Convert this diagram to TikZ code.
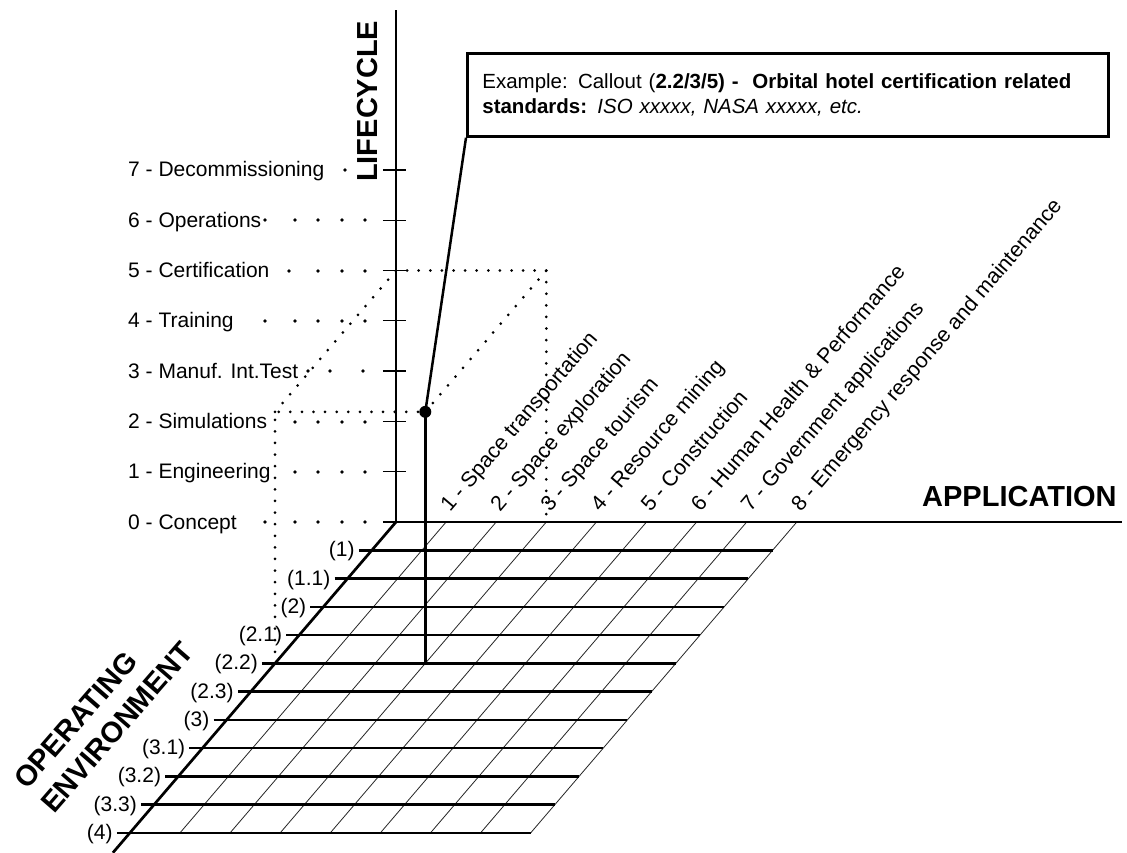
\documentclass[tikz,border=0pt]{standalone}
\usepackage{fontspec}
\setmainfont{Liberation Sans}
\begin{document}
\begin{tikzpicture}[x=1pt,y=-1pt,
  axis/.style={line width=2.7pt},
  tickmark/.style={line width=1.3pt},
  gridrow/.style={line width=2.5pt},
  hatch/.style={line width=0.8pt, black!85},
  constr/.style={line width=3pt, dash pattern=on 0pt off 11.6pt, line cap=round},
  lab/.style={font=\fontsize{21}{25}\selectfont, inner sep=0pt},
  applab/.style={font=\fontsize{21.4}{25}\selectfont, inner sep=0pt},
  big/.style={font=\fontsize{29}{33}\selectfont\bfseries, inner sep=0pt},
  leader/.style={fill=black}
]
\fill[white] (0,0) rectangle (1127,852);
\useasboundingbox (0,0) rectangle (1127,852);

\begin{scope}[shift={(396,522)}, x={(50.1pt,0pt)}, y={(0pt,50.3pt)}, z={(-24.2pt,-28.27pt)}]
  \coordinate (O) at (0,0,0);
  \coordinate (Ltop) at (0,10.18,0);
  \coordinate (Ebot) at (0,0,11.7);
  \coordinate (Aleft) at (-0.26,0,0);
  \coordinate (P) at (3,5,5);
  \coordinate (G) at (3,0,5);
  \coordinate (E5) at (0,0,5);
  \coordinate (E5up) at (0,5,5);
  \coordinate (L5) at (0,5,0);
  \coordinate (B5) at (3,5,0);
  \coordinate (A3) at (3,0,0);
  \foreach \j in {1,...,8} \draw[hatch] (\j,0,0) -- (\j,0,11);
  \foreach \k in {1,...,11} \draw[gridrow] (-0.26,0,\k) -- (8,0,\k);
  \foreach \i in {1,...,7} \draw[tickmark] (-0.26,\i,0) -- (0.2,\i,0);
\end{scope}
\coordinate (Aend) at (1122,522);

% axes
\draw[axis] (O) -- (Ltop);
\draw[axis] (Aleft) -- (Aend);
\draw[axis] (O) -- (Ebot);

% lifecycle labels
\foreach \t [count=\i from 0] in {0 - Concept, 1 - Engineering, 2 - Simulations, 3 - Manuf. Int.Test, 4 - Training, 5 - Certification, 6 - Operations, 7 - Decommissioning}
  \node[lab, anchor=base west] (lc\i) at (128,{522-50.3*\i+7}) {\t};

% leader dots
\foreach \x in {265,295,318,342,365} \fill[leader] (\x,522) circle (1.8);
\foreach \x in {295,318,342,365} \fill[leader] (\x,472) circle (1.8);
\foreach \x in {295,318,342,365} \fill[leader] (\x,422) circle (1.8);
\foreach \x in {308,330,363} \fill[leader] (\x,371) circle (1.8);
\foreach \x in {265,295,318,342,365} \fill[leader] (\x,321) circle (1.8);
\foreach \x in {289,318,342,365} \fill[leader] (\x,271) circle (1.8);
\foreach \x in {265,295,318,342,365} \fill[leader] (\x,220) circle (1.8);
\foreach \x in {345} \fill[leader] (\x,170) circle (1.8);

% operating environment labels
\foreach \t [count=\k] in {(1),(1.1),(2),(2.1),(2.2),(2.3),(3),(3.1),(3.2),(3.3),(4)}
  \node[lab, anchor=base east] (env\k) at ({379-24.2*\k},{528.5+28.27*\k}) {\t};

% application labels
\foreach \t [count=\j] in {1 - Space transportation, 2 - Space exploration, 3 - Space tourism, 4 - Resource mining, 5 - Construction, 6 - Human Health \& Performance, 7 - Government applications, 8 - Emergency response and maintenance}
  \node[applab, rotate=49.5, anchor=base west] (app\j) at ({450+50.1*(\j-1)},513) {\t};

% axis titles
\node[big, rotate=90, anchor=base west] (lctitle) at (377,182) {LIFECYCLE};
\node[big, anchor=base west] (apptitle) at (922,506) {APPLICATION};
\node[big, rotate=49, anchor=base west] (optitle) at (27,791) {OPERATING};
\node[big, rotate=49, anchor=base west] (envtitle) at (54,815) {ENVIRONMENT};

% construction lines
\draw[constr] (E5) -- (E5up) -- (P);
\draw[constr] (E5up) -- (L5) -- (B5) -- (A3);
\draw[constr] (P) -- (B5);

% callout
\node[draw, line width=2.7pt, anchor=north west, minimum width=641pt, minimum height=83pt,
      inner xsep=15pt, text width=611pt, align=left, font=\fontsize{20.5}{25}\selectfont]
  (callout) at (466,52)
  {Example: Callout (\textbf{2.2/3/5) -\ \ Orbital hotel certification related}\\
   \textbf{standards:} \textit{ISO xxxxx, NASA xxxxx, etc.}};
\draw[axis] (P) -- (G);
\draw[line width=2.5pt] (P) -- (callout.south west);
\fill (P) circle (6);
\end{tikzpicture}
\end{document}
